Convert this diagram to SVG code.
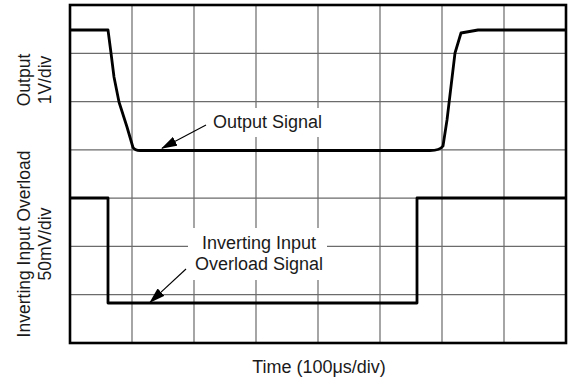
<svg xmlns="http://www.w3.org/2000/svg" width="568" height="381" viewBox="0 0 568 381">
<style>
.grid{stroke:#6b6b6b;stroke-width:1.2;fill:none}
.frame{stroke:#000;stroke-width:2.6;fill:none}
.sig{stroke:#000;stroke-width:2.8;fill:none;stroke-linejoin:round}
.lead{stroke:#000;stroke-width:1.1;fill:none}
.t{font-family:"Liberation Sans",Arial,sans-serif;font-size:18px;fill:#1a1a1a}
.ax{font-family:"Liberation Sans",Arial,sans-serif;font-size:17.5px;fill:#1a1a1a;text-anchor:middle}
</style>
<defs>
<marker id="ah" viewBox="0 0 16 10" refX="15" refY="5" markerWidth="16" markerHeight="10" markerUnits="userSpaceOnUse" orient="auto">
<path d="M0,0 L16,5 L0,10 Z" fill="#000"/>
</marker>
</defs>
<rect x="0" y="0" width="568" height="381" fill="#fff"/>
<g id="grid">
<path class="grid" d="M132,5V343M194,5V343M256,5V343M318,5V343M380,5V343M442,5V343M504,5V343"/>
<path class="grid" d="M70,53.3H566M70,101.6H566M70,149.9H566M70,198.1H566M70,246.4H566M70,294.7H566"/>
</g>
<g id="label-masks">
<rect x="198" y="108" width="132" height="29" fill="#fff"/>
<rect x="188" y="228" width="139" height="52" fill="#fff"/>
</g>
<g id="frame">
<rect class="frame" x="70" y="5" width="496" height="338"/>
</g>
<g id="output-signal">
<path class="sig" d="M70,30 L108,30 L111,53 L114,77 L119,102 L127,127 L133,147.5 Q135,150.5 140,150.5 L430,150.5 Q440,150.5 443,146 L447,120 L455,53 L461,33 L478,30 L566,30"/>
</g>
<g id="input-signal">
<path class="sig" d="M70,198 L108,198 L108,303 L417,303 L417,198 L566,198"/>
</g>
<g id="connectors">
<line class="lead" x1="206" y1="125" x2="162" y2="148.3" marker-end="url(#ah)"/>
<line class="lead" x1="186" y1="269" x2="150" y2="302.3" marker-end="url(#ah)"/>
</g>
<g id="label-output">
<text class="t" x="213" y="128">Output Signal</text>
</g>
<g id="label-input">
<text class="t" x="259" y="249" text-anchor="middle">Inverting Input</text>
<text class="t" x="259" y="270" text-anchor="middle">Overload Signal</text>
</g>
<g id="axis-labels">
<text class="ax" transform="translate(30,80) rotate(-90)">Output</text>
<text class="ax" transform="translate(51,80) rotate(-90)">1V/div</text>
<text class="ax" transform="translate(30,244) rotate(-90)">Inverting Input Overload</text>
<text class="ax" transform="translate(51,244) rotate(-90)">50mV/div</text>
<text class="t" x="319" y="373" text-anchor="middle">Time (100μs/div)</text>
</g>
</svg>
